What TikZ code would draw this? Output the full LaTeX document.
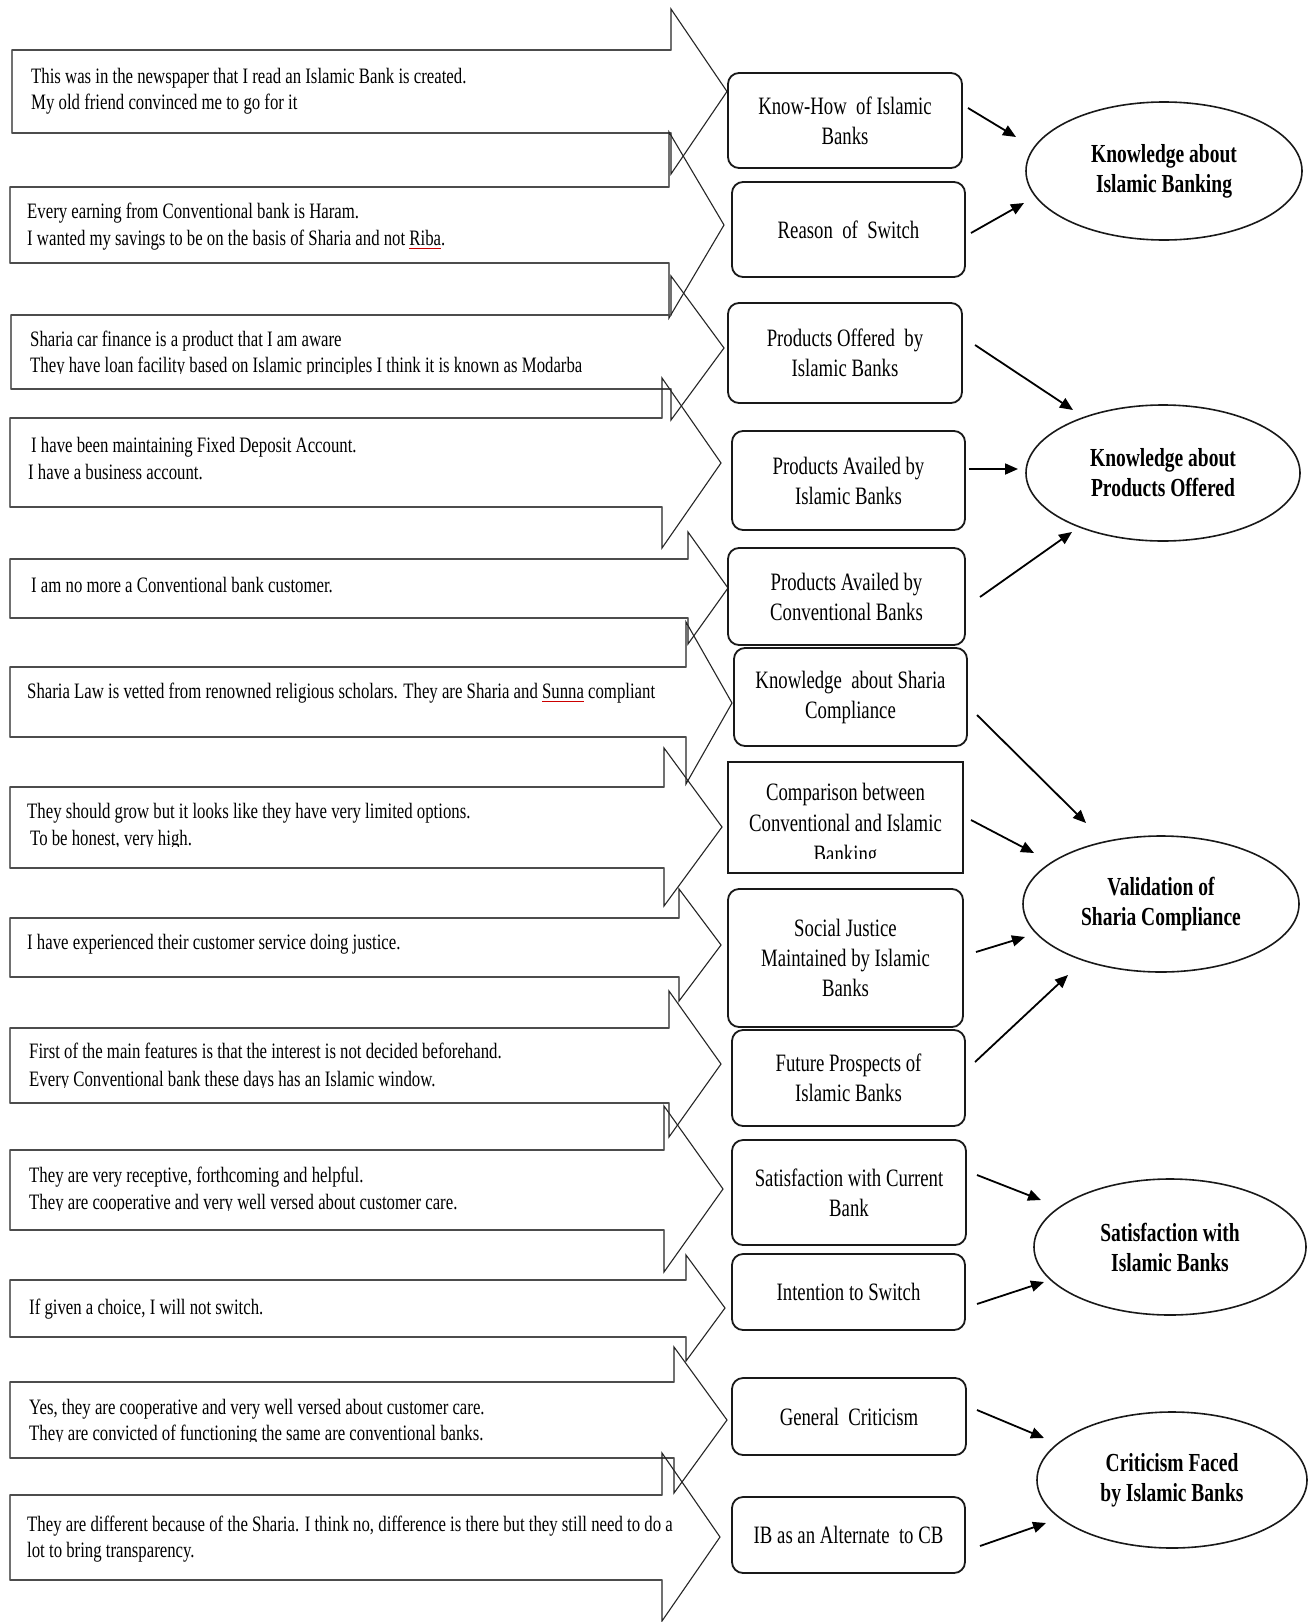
\documentclass[tikz,border=0pt]{standalone}
\usepackage{fontspec}
\setmainfont[FakeStretch=0.75]{Liberation Serif}
\newfontfamily\leftfont[FakeStretch=0.762]{Liberation Serif}
\usetikzlibrary{arrows.meta,shapes.geometric}
\newlength\ulwd
\newcommand\redul[1]{\settowidth\ulwd{#1}\rlap{\textcolor{red!80!black}{\rule[-3.5pt]{\ulwd}{0.9pt}}}#1}
\newcommand\ShapeArrow[7]{%
  \draw[arrowline] (#1,#3) -- (#2,#3) -- (#2,#5) -- (#7,{(#5+#6)/2}) -- (#2,#6) -- (#2,#4) -- (#1,#4) -- cycle;
  \draw[hedge] (#1,#3) -- (#2,#3) (#1,#4) -- (#2,#4);
}
\newcommand\ClipLine[4]{% name, x, baseline, text
  \begin{scope}
    \clip (#2-5,#3-30) rectangle (700,#3+1.2);
    \node[ltxt] (#1) at (#2,#3) {#4};
  \end{scope}
}
\tikzset{
  arrowline/.style={draw=black!85, line width=1.1pt, line join=miter},
  hedge/.style={draw=black!70, line width=2.4pt},
  ltxt/.style={anchor=base west, inner sep=0pt, font=\leftfont\fontsize{22}{26}\selectfont},
  rbox/.style={draw=black!90, line width=1.8pt, rounded corners=11pt, fill=white, align=center, inner sep=2pt, font=\fontsize{25}{30}\selectfont},
  sbox/.style={rbox, rounded corners=0pt},
  btxt/.style={anchor=base, inner sep=0pt, font=\fontsize{25}{30}\selectfont},
  ell/.style={ellipse, draw=black!90, line width=1.6pt, inner sep=0pt, align=center, font=\fontsize{26}{30}\selectfont\bfseries},
  conn/.style={draw=black, line width=1.8pt, -{Triangle[length=13pt,width=11pt]}},
}
\begin{document}
\begin{tikzpicture}[x=1pt,y=-1pt]
\useasboundingbox (0,0) rectangle (1307,1622);
\fill[white] (0,0) rectangle (1307,1622);

% big arrows: xL, xB, yT, yB, yHT, yHB, xTip
\ShapeArrow{12}{671}{50}{133}{9}{174}{727}
\ShapeArrow{10}{669}{187}{263}{132}{318}{724}
\ShapeArrow{11}{671}{315}{389}{276}{420}{724}
\ShapeArrow{10}{662}{418}{507}{378}{548}{721}
\ShapeArrow{10}{688}{559}{618}{532}{644}{728}
\ShapeArrow{10}{686}{667}{737}{622}{784}{732}
\ShapeArrow{10}{664}{787}{868}{748}{906}{722}
\ShapeArrow{10}{679}{918}{977}{889}{1001}{721}
\ShapeArrow{10}{669}{1028}{1103}{991}{1137}{721}
\ShapeArrow{10}{664}{1150}{1230}{1106}{1272}{723}
\ShapeArrow{10}{686}{1280}{1337}{1255}{1361}{725}
\ShapeArrow{10}{674}{1382}{1458}{1347}{1493}{727}
\ShapeArrow{10}{662}{1495}{1580}{1453}{1621}{720}

% texts in the big arrows
\node[ltxt] (t1a) at (31,83) {This was in the newspaper that I read an Islamic Bank is created.};
\node[ltxt] (t1b) at (31,109) {My old friend convinced me to go for it};
\node[ltxt] (t2a) at (27,218) {Every earning from Conventional bank is Haram.};
\node[ltxt] (t2b) at (27,245) {I wanted my savings to be on the basis of Sharia and not \redul{Riba}.};
\node[ltxt] (t3a) at (30,346) {Sharia car finance is a product that I am aware};
\ClipLine{t3b}{30}{372}{They have loan facility based on Islamic principles I think it is known as Modarba}
\node[ltxt] (t4a) at (31,452) {I have been maintaining Fixed Deposit Account.};
\node[ltxt] (t4b) at (28,479) {I have a business account.};
\node[ltxt] (t5a) at (31,592) {I am no more a Conventional bank customer.};
\node[ltxt] (t6a) at (27,698) {Sharia Law is vetted from renowned religious scholars. They are Sharia and \redul{Sunna} compliant};
\node[ltxt] (t7a) at (27,818) {They should grow but it looks like they have very limited options.};
\ClipLine{t7b}{30}{845}{To be honest, very high.}
\node[ltxt] (t8a) at (27,949) {I have experienced their customer service doing justice.};
\node[ltxt] (t9a) at (29,1058) {First of the main features is that the interest is not decided beforehand.};
\ClipLine{t9b}{29}{1086}{Every Conventional bank these days has an Islamic window.}
\node[ltxt] (t10a) at (29,1182) {They are very receptive, forthcoming and helpful.};
\ClipLine{t10b}{29}{1209}{They are cooperative and very well versed about customer care.}
\node[ltxt] (t11a) at (29,1314) {If given a choice, I will not switch.};
\node[ltxt] (t12a) at (29,1414) {Yes, they are cooperative and very well versed about customer care.};
\ClipLine{t12b}{29}{1440}{They are convicted of functioning the same are conventional banks.}
\node[ltxt] (t13a) at (27,1531) {They are different because of the Sharia. I think no, difference is there but they still need to do a};
\node[ltxt] (t13b) at (27,1557) {lot to bring transparency.};

% theme boxes
\node[rbox, minimum width=234, minimum height=95] (b1) at (845,120.5) {Know-How\ \ of Islamic\\Banks};
\node[rbox, minimum width=233, minimum height=95] (b2) at (848.5,229.5) {Reason\ \ of\ \ Switch};
\node[rbox, minimum width=234, minimum height=100] (b3) at (845,353) {Products Offered\ \ by\\Islamic Banks};
\node[rbox, minimum width=233, minimum height=99] (b4) at (848.5,480.5) {Products Availed by\\Islamic Banks};
\node[rbox, minimum width=237, minimum height=97] (b5) at (846.5,596.5) {Products Availed by\\Conventional Banks};
\node[rbox, minimum width=233, minimum height=98] (b6) at (850.5,697) {Knowledge\ \ about Sharia\\Compliance};
\node[sbox, minimum width=235, minimum height=111] (b7) at (845.5,817.5) {};
\begin{scope}
  \clip (728,762) rectangle (963,858);
  \node[btxt] (b7a) at (845.5,800) {Comparison between};
  \node[btxt] (b7b) at (845.5,831) {Conventional and Islamic};
  \node[btxt] (b7c) at (845.5,862) {Banking};
\end{scope}
\node[rbox, minimum width=235, minimum height=138] (b8) at (845.5,958) {Social Justice\\Maintained by Islamic\\Banks};
\node[rbox, minimum width=233, minimum height=96] (b9) at (848.5,1078) {Future Prospects of\\Islamic Banks};
\node[rbox, minimum width=234, minimum height=105] (b10) at (849,1192.5) {Satisfaction with Current\\Bank};
\node[rbox, minimum width=233, minimum height=76] (b11) at (848.5,1292) {Intention to Switch};
\node[rbox, minimum width=234, minimum height=77] (b12) at (849,1416.5) {General\ \ Criticism};
\node[rbox, minimum width=233, minimum height=76] (b13) at (848.5,1535) {IB as an Alternate\ \ to CB};

% category ellipses
\node[ell, minimum width=276, minimum height=138] (e1) at (1164,171) {Knowledge about\\Islamic Banking};
\node[ell, minimum width=274, minimum height=136] (e2) at (1163,473) {Knowledge about\\Products Offered};
\node[ell, minimum width=276, minimum height=136] (e3) at (1161,904) {Validation of\\Sharia Compliance};
\node[ell, minimum width=272, minimum height=136] (e4) at (1170,1247) {Satisfaction with\\Islamic Banks};
\node[ell, minimum width=270, minimum height=136] (e5) at (1172,1480) {Criticism Faced\\by Islamic Banks};

% connector end points
\coordinate (s1) at (968,108);   \coordinate (d1) at (1016,137);
\coordinate (s2) at (971,233);   \coordinate (d2) at (1024,203);
\coordinate (s3) at (975,345);   \coordinate (d3) at (1073,410);
\coordinate (s4) at (969,469);   \coordinate (d4) at (1018,469);
\coordinate (s5) at (980,597);   \coordinate (d5) at (1072,532);
\coordinate (s6) at (977,715);   \coordinate (d6) at (1086,823);
\coordinate (s7) at (971,820);   \coordinate (d7) at (1034,853);
\coordinate (s8) at (976,952);   \coordinate (d8) at (1025,937);
\coordinate (s9) at (975,1062);  \coordinate (d9) at (1068,975);
\coordinate (s10) at (977,1175); \coordinate (d10) at (1041,1200);
\coordinate (s11) at (977,1304); \coordinate (d11) at (1044,1282);
\coordinate (s12) at (977,1410); \coordinate (d12) at (1044,1438);
\coordinate (s13) at (980,1546); \coordinate (d13) at (1046,1523);

\draw[conn] (s1) -- (d1);
\draw[conn] (s2) -- (d2);
\draw[conn] (s3) -- (d3);
\draw[conn] (s4) -- (d4);
\draw[conn] (s5) -- (d5);
\draw[conn] (s6) -- (d6);
\draw[conn] (s7) -- (d7);
\draw[conn] (s8) -- (d8);
\draw[conn] (s9) -- (d9);
\draw[conn] (s10) -- (d10);
\draw[conn] (s11) -- (d11);
\draw[conn] (s12) -- (d12);
\draw[conn] (s13) -- (d13);
\end{tikzpicture}
\end{document}
